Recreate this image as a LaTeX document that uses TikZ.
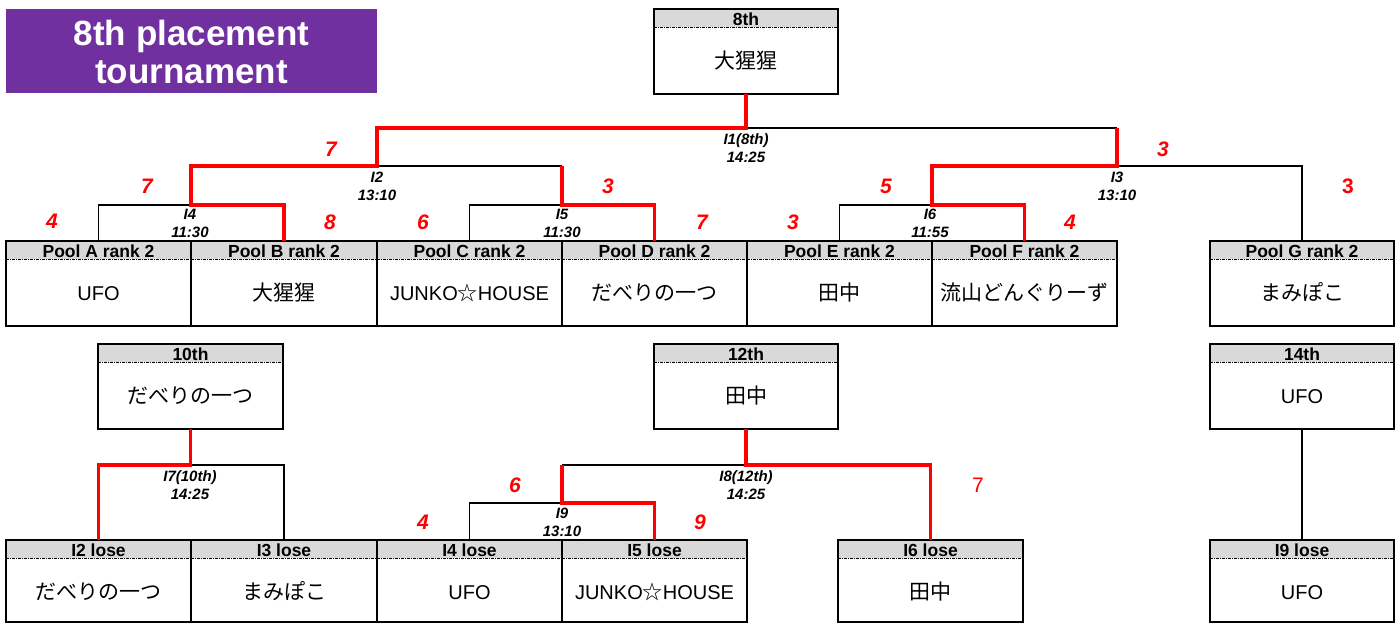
\documentclass[tikz,border=0pt]{standalone}
\usepackage{fontspec}
\setmainfont{Liberation Sans}
\newfontfamily\jp{Noto Sans CJK JP}
\usetikzlibrary{calc}
\definecolor{titlepurple}{RGB}{112,48,160}
\definecolor{hdrgray}{RGB}{217,217,217}
\newcommand\jpt[1]{{\jp\fontsize{21}{22}\selectfont #1}}
\tikzset{
  frame/.style={draw, line width=2.6pt, inner sep=0pt, outer sep=0pt},
  dashline/.style={line width=0.9pt, dash pattern=on 3pt off 1pt on 1pt off 1pt},
  blk/.style={draw=black, line width=1.7pt},
  win/.style={draw=red, line width=3.8pt},
  hdr/.style={font=\fontsize{17.5}{18}\selectfont\bfseries, anchor=base, inner sep=0pt},
  body/.style={font=\fontsize{20}{22}\selectfont, anchor=base, inner sep=0pt},
  mlab/.style={font=\fontsize{15}{18}\selectfont\bfseries\itshape, align=center, inner sep=0pt},
  score/.style={font=\fontsize{21}{22}\selectfont\bfseries\itshape, text=red, inner sep=0pt},
  ttl/.style={font=\fontsize{35}{38}\selectfont\bfseries, text=white, anchor=base, inner sep=0pt},
}
\newcommand\teambox[7]{%
  \fill[hdrgray] (#2,#3) rectangle (#4,#3+18);
  \draw[dashline] (#2,#3+18) -- (#4,#3+18);
  \pgfmathsetmacro\bxw{#4-#2}%
  \pgfmathsetmacro\bxh{#5-#3}%
  \node[frame, minimum width=\bxw pt, minimum height=\bxh pt] (#1) at ({(#2+#4)/2},{(#3+#5)/2}) {};
  \node[hdr] (#1h) at ({(#2+#4)/2},#3+16) {#6};
  \node[body] (#1b) at ({(#2+#4)/2},#3+59) {#7};
}
\begin{document}
\begin{tikzpicture}[x=1pt,y=-1pt]
\useasboundingbox (0,0) rectangle (1398,624);
% title
\fill[titlepurple] (6,9) rectangle (377,93);
\node[ttl] (t1) at (191.5,45) {8th placement};
\node[ttl] (t2) at (191.5,83) {tournament};
% winner boxes
\teambox{w8}{654}{9}{838}{94}{8th}{\jpt{大猩猩}}
\teambox{w10}{98}{344}{283}{429}{10th}{\jpt{だべりの一つ}}
\teambox{w12}{654}{344}{838}{429}{12th}{\jpt{田中}}
\teambox{w14}{1210}{344}{1394}{429}{14th}{UFO}
% first row
\teambox{pA}{6}{241}{191}{326}{Pool A rank 2}{UFO}
\teambox{pB}{191}{241}{377}{326}{Pool B rank 2}{\jpt{大猩猩}}
\teambox{pC}{377}{241}{562}{326}{Pool C rank 2}{JUNKO{\jp ☆}HOUSE}
\teambox{pD}{562}{241}{747}{326}{Pool D rank 2}{\jpt{だべりの一つ}}
\teambox{pE}{747}{241}{932}{326}{Pool E rank 2}{\jpt{田中}}
\teambox{pF}{932}{241}{1117}{326}{Pool F rank 2}{\jpt{流山どんぐりーず}}
\teambox{pG}{1210}{241}{1394}{326}{Pool G rank 2}{\jpt{まみぽこ}}
% bottom row
\teambox{l2}{6}{540}{191}{622}{I2 lose}{\jpt{だべりの一つ}}
\teambox{l3}{191}{540}{377}{622}{I3 lose}{\jpt{まみぽこ}}
\teambox{l4}{377}{540}{562}{622}{I4 lose}{UFO}
\teambox{l5}{562}{540}{747}{622}{I5 lose}{JUNKO{\jp ☆}HOUSE}
\teambox{l6}{838}{540}{1023}{622}{I6 lose}{\jpt{田中}}
\teambox{l9}{1210}{540}{1394}{622}{I9 lose}{UFO}
% junctions
\coordinate (j1) at (746,128);
\coordinate (a1L) at (377,128);
\coordinate (a1R) at (1117,128);
\coordinate (j2) at (377,166);
\coordinate (c5) at (562,166);
\coordinate (j3) at (1117,166);
\coordinate (j4) at (191,205);
\coordinate (j5) at (562,205);
\coordinate (j6) at (932,205);
\coordinate (j7) at (190.5,465);
\coordinate (j8) at (746,465);
\coordinate (c9) at (562,465);
\coordinate (j9) at (562,503);
% black connectors
\draw[blk] (j1) -- (a1R);
\draw[blk] (j2) -- (c5);
\draw[blk] (j3) -| (pG.north);
\draw[blk] (pA.north) |- (j4);
\draw[blk] (pC.north) |- (j5);
\draw[blk] (pE.north) |- (j6);
\draw[blk] (j7) -| (l3.north);
\draw[blk] (j8) -- (c9);
\draw[blk] (l4.north) |- (j9);
\draw[blk] (w14.south) -- (l9.north);
% red (winner) connectors
\draw[win] (w8.south) |- (a1L) -- (j2) -| (j4) -| (pB.north);
\draw[win] (a1R) -- (j3) -| (j6) -| (pF.north);
\draw[win] (c5) -- (j5) -| (pD.north);
\draw[win] (w10.south) -- (j7) -| (l2.north);
\draw[win] (w12.south) -- (j8) -| (l6.north);
\draw[win] (c9) -- (j9) -| (l5.north);
% match labels
\node[mlab] (m1) at (746,148) {I1(8th)\\14:25};
\node[mlab] (m2) at (377,186) {I2\\13:10};
\node[mlab] (m3) at (1117,186) {I3\\13:10};
\node[mlab] (m4) at (190,223) {I4\\11:30};
\node[mlab] (m5) at (562,223) {I5\\11:30};
\node[mlab] (m6) at (930,223) {I6\\11:55};
\node[mlab] (m7) at (190,485) {I7(10th)\\14:25};
\node[mlab] (m8) at (746,485) {I8(12th)\\14:25};
\node[mlab] (m9) at (562,522) {I9\\13:10};
% scores
\node[score] (s1) at (331,149) {7};
\node[score] (s2) at (1163,149) {3};
\node[score] (s3) at (147,186) {7};
\node[score] (s4) at (608,186) {3};
\node[score] (s5) at (886,186) {5};
\node[score, font=\fontsize{21}{22}\selectfont\bfseries] (s6) at (1348,186) {3};
\node[score] (s7) at (52,221) {4};
\node[score] (s8) at (330,222) {8};
\node[score] (s9) at (423,222) {6};
\node[score] (s10) at (702,222) {7};
\node[score] (s11) at (793,222) {3};
\node[score] (s12) at (1070,222) {4};
\node[score] (s13) at (515,485) {6};
\node[score] (s14) at (423,522) {4};
\node[score] (s15) at (700,522) {9};
\node[score, font=\fontsize{21}{22}\selectfont] (s16) at (978,485) {7};
\end{tikzpicture}
\end{document}
